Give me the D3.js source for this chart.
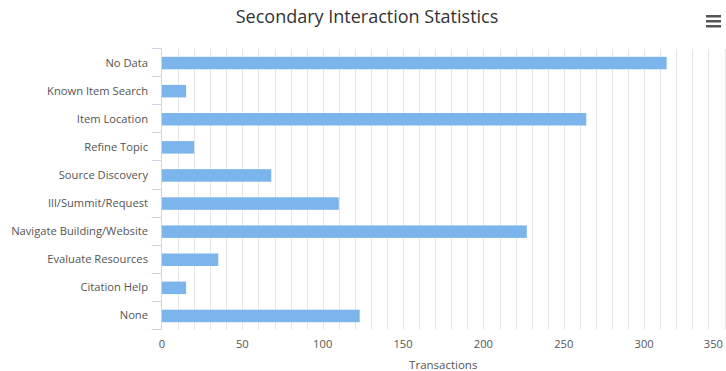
<!DOCTYPE html>
<html>
<head>
<meta charset="utf-8">
<script src="https://cdn.jsdelivr.net/npm/d3@7"></script>
<style>
  html, body { margin: 0; padding: 0; background: #fff; }
  svg { display: block; font-family: "Open Sans", "DejaVu Sans", sans-serif; }
</style>
</head>
<body>
<svg id="chart" width="726" height="371"></svg>
<script>
const categories = ["No Data", "Known Item Search", "Item Location", "Refine Topic", "Source Discovery",
  "Ill/Summit/Request", "Navigate Building/Website", "Evaluate Resources", "Citation Help", "None"];
const values = [314, 15, 264, 20, 68, 110, 227, 35, 15, 123];
const xTicks = [0, 50, 100, 150, 200, 250, 300, 350];
const titleText = "Secondary Interaction Statistics";
const xAxisTitle = "Transactions";

const W = 726, H = 371;
const margin = { left: 162, right: 1.5, top: 49, bottom: 41 };
const svg = d3.select("#chart");

const x = d3.scaleLinear().domain([0, 350]).range([margin.left, W - margin.right]);
const y = d3.scaleBand().domain(categories).range([margin.top, H - margin.bottom]);

// title
svg.append("text").attr("x", 367).attr("y", 23).attr("text-anchor", "middle")
  .attr("fill", "#333").style("font-size", "18px").text(titleText);

// menu icon
const menu = svg.append("g").attr("transform", "translate(706,15)");
[0, 5, 10].forEach(dy => menu.append("rect").attr("x", 0).attr("y", dy).attr("width", 15).attr("height", 2.5).attr("fill", "#555"));

// gridlines every 10
const grid = d3.range(10, 351, 10);
svg.append("g").selectAll("line").data(grid).join("line")
  .attr("x1", d => Math.round(x(d)) + 0.5).attr("x2", d => Math.round(x(d)) + 0.5)
  .attr("y1", margin.top).attr("y2", H - margin.bottom)
  .attr("stroke", "#e6e6e6").attr("stroke-width", 1);

// bars
const bh = 12.5;
svg.append("g").selectAll("rect").data(values).join("rect")
  .attr("x", x(0))
  .attr("y", (d, i) => y(categories[i]) + y.bandwidth() / 2 - bh / 2)
  .attr("width", d => x(d) - x(0))
  .attr("height", bh)
  .attr("fill", "#7cb5ec");

// category axis line and ticks
const ax = svg.append("g");
ax.append("line").attr("x1", margin.left - 0.5).attr("x2", margin.left - 0.5)
  .attr("y1", margin.top).attr("y2", H - margin.bottom).attr("stroke", "#ccd6eb");
const bounds = categories.map(c => y(c)).concat([H - margin.bottom]);
ax.selectAll("line.tk").data(bounds).join("line").attr("class", "tk")
  .attr("x1", margin.left - 10).attr("x2", margin.left)
  .attr("y1", d => Math.round(d) - 0.5).attr("y2", d => Math.round(d) - 0.5)
  .attr("stroke", "#ccd6eb");
ax.selectAll("text").data(categories).join("text")
  .attr("x", margin.left - 14)
  .attr("y", d => y(d) + y.bandwidth() / 2 + 3.5)
  .attr("text-anchor", "end").attr("fill", "#555").style("font-size", "11.2px")
  .text(d => d);

// value axis labels
svg.append("g").selectAll("text").data(xTicks).join("text")
  .attr("x", d => (x(d) + 12 > W) ? W - 3 : x(d))
  .attr("text-anchor", d => (x(d) + 12 > W) ? "end" : "middle")
  .attr("y", 348).attr("fill", "#555").style("font-size", "11.2px")
  .text(d => d);

svg.append("text").attr("x", (x(0) + x(350)) / 2).attr("y", 369)
  .attr("text-anchor", "middle").attr("fill", "#555").style("font-size", "11.5px")
  .text(xAxisTitle);
</script>
</body>
</html>
